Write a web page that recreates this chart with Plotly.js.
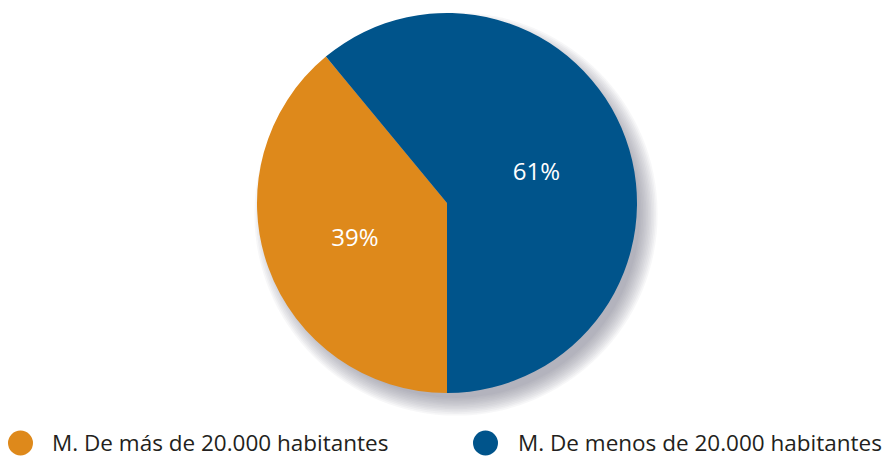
<!DOCTYPE html>
<html>
<head>
<meta charset="utf-8">
<script src="https://cdn.plot.ly/plotly-3.0.1.min.js"></script>
<style>html,body{margin:0;padding:0;background:#fff;}#chart{width:888px;height:460px;}</style>
</head>
<body>
<div id="chart"></div>
<script>
const categories = ["M. De más de 20.000 habitantes", "M. De menos de 20.000 habitantes"];
const values = [39, 61];
const colors = ["#de891b", "#00548b"];

const W = 888, H = 460;
const cx = 447, cy = 203, R = 190;
const px = x => x / W;
const py = y => 1 - y / H;

const shapes = [];
// soft drop shadow toward bottom-right
const steps = 12;
for (let i = 0; i < steps; i++) {
  const r = R - 6 + i * 1.6;
  const ox = cx + 9, oy = cy + 11;
  shapes.push({
    type: 'circle', xref: 'paper', yref: 'paper', layer: 'below',
    x0: px(ox - r), x1: px(ox + r), y0: py(oy + r), y1: py(oy - r),
    fillcolor: 'rgba(110,110,120,0.055)', line: {width: 0}
  });
}
// legend markers
const legX = [20.5, 485.5], legTextX = [50, 516], legY = 442, mr = 12.5;
const annotations = [];
categories.forEach((c, i) => {
  shapes.push({
    type: 'circle', xref: 'paper', yref: 'paper', layer: 'above',
    x0: px(legX[i] - mr), x1: px(legX[i] + mr), y0: py(legY + 1 + mr), y1: py(legY + 1 - mr),
    fillcolor: colors[i], line: {width: 0}
  });
  annotations.push({
    xref: 'paper', yref: 'paper', x: px(legTextX[i]), y: py(legY),
    xanchor: 'left', yanchor: 'middle', showarrow: false, text: c,
    font: {family: 'Open Sans, sans-serif', size: 22.5, color: '#231f20'}
  });
});

const data = [{
  type: 'pie',
  labels: categories,
  values: values,
  sort: false,
  direction: 'clockwise',
  rotation: 180,
  marker: {colors: colors, line: {width: 0}},
  textinfo: 'percent',
  texttemplate: '%{percent:.0%}',
  textposition: 'inside',
  insidetextorientation: 'horizontal',
  textfont: {family: 'Open Sans, sans-serif', size: 24, color: '#ffffff'},
  hoverinfo: 'none',
  domain: {x: [px(cx - R), px(cx + R)], y: [py(cy + R), py(cy - R)]},
  showlegend: false
}];

const layout = {
  width: W, height: H,
  margin: {l: 0, r: 0, t: 0, b: 0},
  paper_bgcolor: '#ffffff',
  showlegend: false,
  shapes: shapes,
  annotations: annotations
};

Plotly.newPlot('chart', data, layout, {displayModeBar: false, staticPlot: true});
</script>
</body>
</html>
